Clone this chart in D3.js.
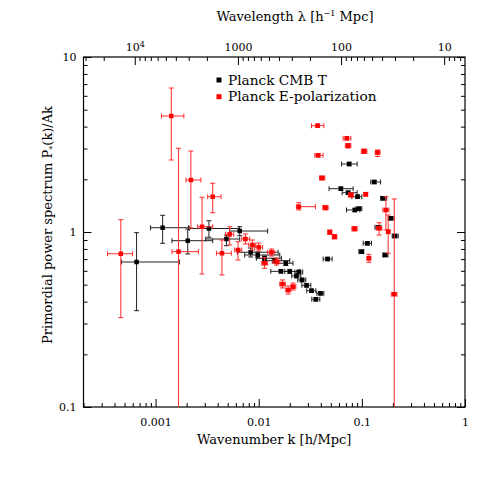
<!DOCTYPE html>
<html>
<head>
<meta charset="utf-8">
<script src="https://cdn.jsdelivr.net/npm/d3@7"></script>
<style>
body { margin: 0; background: #fff; }
text { font-family: "DejaVu Serif", serif; fill: #000; }
</style>
</head>
<body>
<svg id="chart" width="491" height="491"></svg>
<script>
// Planck CMB T : k, bin edges, P and its error range
const cmbK   = [0.000654, 0.00117, 0.00205, 0.00329, 0.00486, 0.00654, 0.00836, 0.00978, 0.0114, 0.0141, 0.0183, 0.0164, 0.0200, 0.0245, 0.0232, 0.0263, 0.0291, 0.0325, 0.0397, 0.0358, 0.0465, 0.0753, 0.0626, 0.0736, 0.0908, 0.132, 0.161, 0.0855, 0.0935, 0.191, 0.144, 0.209, 0.113, 0.0993, 0.168];
const cmbKLo = [0.000468, 0.000894, 0.00144, 0.00212, 0.00306, 0.00523, 0.00621, 0.00731, 0.0095, 0.0109, 0.0149, 0.0131, 0.0179, 0.0224, 0.0209, 0.0239, 0.0262, 0.0292, 0.0366, 0.0327, 0.0421, 0.0635, 0.0481, 0.0644, 0.080, 0.122, 0.152, 0.071, 0.0874, 0.180, 0.134, 0.197, 0.103, 0.0935, 0.160];
const cmbKHi = [0.00170, 0.00209, 0.00358, 0.00649, 0.00654, 0.0122, 0.0154, 0.0160, 0.0166, 0.0200, 0.0215, 0.0205, 0.0250, 0.0267, 0.0256, 0.0286, 0.0320, 0.0358, 0.0428, 0.0391, 0.0515, 0.090, 0.0823, 0.090, 0.100, 0.152, 0.174, 0.0956, 0.100, 0.206, 0.153, 0.225, 0.124, 0.1045, 0.179];
const cmbP   = [0.674, 1.058, 0.892, 1.047, 0.912, 1.013, 0.766, 0.739, 0.708, 0.686, 0.663, 0.596, 0.595, 0.591, 0.561, 0.532, 0.496, 0.462, 0.446, 0.413, 0.701, 2.447, 1.768, 1.677, 1.591, 1.931, 1.558, 1.336, 1.359, 1.198, 1.064, 0.949, 0.862, 0.772, 0.739];
const cmbPLo = [0.355, 0.862, 0.749, 0.933, 0.835, 0.952, 0.720, 0.710, 0.683, 0.665, 0.643, 0.583, 0.581, 0.577, 0.547, 0.519, 0.484, 0.452, 0.437, 0.403, 0.686, 2.392, 1.729, 1.640, 1.556, 1.888, 1.523, 1.306, 1.329, 1.171, 1.040, 0.928, 0.843, 0.755, 0.723];
const cmbPHi = [0.991, 1.246, 1.040, 1.160, 0.961, 1.072, 0.810, 0.769, 0.729, 0.706, 0.678, 0.611, 0.609, 0.605, 0.574, 0.545, 0.508, 0.472, 0.456, 0.422, 0.717, 2.502, 1.808, 1.715, 1.627, 1.974, 1.593, 1.366, 1.389, 1.225, 1.088, 0.970, 0.881, 0.789, 0.756];

// Planck E-polarization (lower bound 0 = error bar runs off the bottom)
const eeK   = [0.00046, 0.00142, 0.00167, 0.00220, 0.00282, 0.00358, 0.00440, 0.00523, 0.00630, 0.00743, 0.00869, 0.0100, 0.0114, 0.0133, 0.0149, 0.0170, 0.0193, 0.0215, 0.0245, 0.0372, 0.0377, 0.0412, 0.0444, 0.0489, 0.0543, 0.0715, 0.0736, 0.0782, 0.0849, 0.105, 0.142, 0.109, 0.117, 0.147, 0.171, 0.180, 0.206];
const eeKLo = [0.000342, 0.00114, 0.00144, 0.00197, 0.00256, 0.00320, 0.00389, 0.00478, 0.00585, 0.00684, 0.0080, 0.00915, 0.0107, 0.0122, 0.0137, 0.0160, 0.0183, 0.0205, 0.0232, 0.0325, 0.0350, 0.0389, 0.0418, 0.0468, 0.0517, 0.0658, 0.0692, 0.0740, 0.080, 0.0989, 0.135, 0.1045, 0.112, 0.138, 0.160, 0.173, 0.193];
const eeKHi = [0.000598, 0.00188, 0.00260, 0.00275, 0.00358, 0.00431, 0.00543, 0.00572, 0.00684, 0.00818, 0.00935, 0.0109, 0.0122, 0.0143, 0.0160, 0.0181, 0.0205, 0.0229, 0.0355, 0.0428, 0.0421, 0.0437, 0.0471, 0.0511, 0.0572, 0.0782, 0.0782, 0.0827, 0.090, 0.112, 0.150, 0.114, 0.122, 0.156, 0.183, 0.187, 0.219];
const eeP   = [0.751, 4.60, 0.772, 1.982, 1.072, 1.591, 0.756, 0.970, 0.789, 0.912, 0.843, 0.818, 0.663, 0.766, 0.677, 0.504, 0.466, 0.487, 1.395, 4.050, 2.743, 2.035, 1.377, 0.996, 0.940, 3.431, 3.112, 1.627, 1.044, 2.891, 2.846, 1.642, 0.708, 1.050, 1.336, 1.004, 0.441];
const eePLo = [0.324, 2.579, 0, 1.054, 0.575, 1.289, 0.568, 0.843, 0.692, 0.854, 0.789, 0.779, 0.620, 0.729, 0.648, 0.479, 0.442, 0.466, 1.336, 3.955, 2.683, 1.982, 1.336, 0.968, 0.912, 3.355, 3.020, 1.585, 1.013, 2.809, 2.700, 1.606, 0.671, 0.961, 1.027, 0.756, 0];
const eePHi = [1.176, 6.65, 3.008, 2.903, 1.579, 1.898, 0.900, 1.072, 0.880, 0.974, 0.900, 0.865, 0.713, 0.800, 0.710, 0.532, 0.491, 0.511, 1.470, 4.142, 2.809, 2.089, 1.417, 1.027, 0.968, 3.513, 3.204, 1.671, 1.075, 2.981, 2.942, 1.682, 0.746, 1.130, 1.591, 1.251, 1.544];

// axis ticks
const kTicks = [0.001, 0.01, 0.1, 1];
const kTickLabels = ["0.001", "0.01", "0.1", "1"];
const pTicks = [0.1, 1, 10];
const pTickLabels = ["0.1", "1", "10"];
const lambdaTicks = [10000, 1000, 100, 10];
const lambdaTickLabels = ["10|4", "1000", "100", "10"];

const seriesNames = ["Planck CMB T", "Planck E-polarization"];
const seriesColors = ["#000", "#ff0000"];
const barColors = ["#222", "#ff2a2a"];

const plotLeft = 83.5, plotRight = 465, plotTop = 57, plotBottom = 407;
const majorLen = 8, minorLen = 4, cap = 2.5, markerSize = 4.5;

const svg = d3.select("#chart");
svg.append("rect").attr("width", 491).attr("height", 491).attr("fill", "#fff");

const x = d3.scaleLog().domain([0.0002, 1]).range([plotLeft, plotRight]);
const y = d3.scaleLog().domain([0.1, 10]).range([plotBottom, plotTop]);
const lam = d3.scaleLog().domain([2 * Math.PI / 0.0002, 2 * Math.PI / 1]).range([plotLeft, plotRight]);

function minorTicks(scale) {
    const [a, b] = d3.extent(scale.domain());
    const out = [];
    for (let e = Math.floor(Math.log10(a)); e <= Math.ceil(Math.log10(b)); e++) {
        for (let m = 2; m <= 9; m++) {
            const v = m * Math.pow(10, e);
            if (v >= a && v <= b) out.push(v);
        }
    }
    return out;
}

function cleanAxis(g) {
    g.select(".domain").remove();
    g.selectAll(".tick line").attr("stroke", "#000").attr("stroke-width", 1);
    g.selectAll(".tick text").attr("font-family", "DejaVu Serif").attr("font-size", 11).attr("fill", "#000");
}

// bottom k axis
svg.append("g").attr("transform", `translate(0,${plotBottom})`)
    .call(d3.axisBottom(x).tickValues(minorTicks(x)).tickSize(-minorLen).tickFormat(""))
    .call(cleanAxis);
svg.append("g").attr("transform", `translate(0,${plotBottom})`)
    .call(d3.axisBottom(x).tickValues(kTicks).tickSize(-majorLen).tickPadding(11)
        .tickFormat((d, i) => kTickLabels[i]))
    .call(cleanAxis);

// top wavelength axis
svg.append("g").attr("transform", `translate(0,${plotTop})`)
    .call(d3.axisTop(lam).tickValues(minorTicks(lam)).tickSize(-minorLen).tickFormat(""))
    .call(cleanAxis);
const topAxis = svg.append("g").attr("transform", `translate(0,${plotTop})`)
    .call(d3.axisTop(lam).tickValues(lambdaTicks).tickSize(-majorLen).tickPadding(6).tickFormat(""))
    .call(cleanAxis);
topAxis.selectAll(".tick text").each(function(d, i) {
    const parts = lambdaTickLabels[i].split("|");
    const t = d3.select(this);
    t.append("tspan").text(parts[0]);
    if (parts[1]) t.append("tspan").attr("dy", -4).attr("font-size", 8).text(parts[1]);
});

// left and right P axes
svg.append("g").attr("transform", `translate(${plotLeft},0)`)
    .call(d3.axisLeft(y).tickValues(minorTicks(y)).tickSize(-minorLen).tickFormat(""))
    .call(cleanAxis);
svg.append("g").attr("transform", `translate(${plotLeft},0)`)
    .call(d3.axisLeft(y).tickValues(pTicks).tickSize(-majorLen).tickPadding(7)
        .tickFormat((d, i) => pTickLabels[i]))
    .call(cleanAxis);
svg.append("g").attr("transform", `translate(${plotRight},0)`)
    .call(d3.axisRight(y).tickValues(minorTicks(y)).tickSize(-minorLen).tickFormat(""))
    .call(cleanAxis);
svg.append("g").attr("transform", `translate(${plotRight},0)`)
    .call(d3.axisRight(y).tickValues(pTicks).tickSize(-majorLen).tickFormat(""))
    .call(cleanAxis);

svg.append("rect")
    .attr("x", plotLeft).attr("y", plotTop)
    .attr("width", plotRight - plotLeft).attr("height", plotBottom - plotTop)
    .attr("fill", "none").attr("stroke", "#000").attr("stroke-width", 1.2);

// axis titles
svg.append("text")
    .attr("x", (plotLeft + plotRight) / 2).attr("y", 444)
    .attr("text-anchor", "middle").attr("font-size", 13)
    .text("Wavenumber k [h/Mpc]");

const topTitle = svg.append("text")
    .attr("x", 295).attr("y", 21)
    .attr("text-anchor", "middle").attr("font-size", 13);
topTitle.append("tspan").text("Wavelength \u03bb [h");
topTitle.append("tspan").attr("dy", -5).attr("font-size", 8).text("\u22121");
topTitle.append("tspan").attr("dy", 5).text(" Mpc]");

const yTitle = svg.append("text")
    .attr("transform", "translate(52,225) rotate(-90)")
    .attr("text-anchor", "middle").attr("font-size", 13);
yTitle.append("tspan").text("Primordial power spectrum P");
yTitle.append("tspan").attr("dy", 3).attr("font-size", 8).text("*");
yTitle.append("tspan").attr("dy", -3).text("(k)/Ak");

// data
svg.append("clipPath").attr("id", "plot-clip")
    .append("rect").attr("x", plotLeft).attr("y", plotTop)
    .attr("width", plotRight - plotLeft).attr("height", plotBottom - plotTop);

const series = [
    { k: cmbK, kLo: cmbKLo, kHi: cmbKHi, p: cmbP, pLo: cmbPLo, pHi: cmbPHi },
    { k: eeK, kLo: eeKLo, kHi: eeKHi, p: eeP, pLo: eePLo, pHi: eePHi }
];

series.forEach((s, si) => {
    const pts = s.k.map((k, i) => ({ k, kLo: s.kLo[i], kHi: s.kHi[i], p: s.p[i], pLo: s.pLo[i], pHi: s.pHi[i] }));
    const g = svg.append("g").attr("clip-path", "url(#plot-clip)")
        .attr("stroke", barColors[si]).attr("stroke-width", 1).attr("fill", "none");

    pts.forEach(d => {
        const cx = x(d.k), cy = y(d.p);
        const x0 = x(d.kLo), x1 = x(d.kHi);
        const y0 = d.pLo > 0 ? y(d.pLo) : plotBottom + 10;
        const y1 = y(d.pHi);
        // horizontal bin bar with caps
        g.append("line").attr("x1", x0).attr("x2", x1).attr("y1", cy).attr("y2", cy);
        g.append("line").attr("x1", x0).attr("x2", x0).attr("y1", cy - cap).attr("y2", cy + cap);
        g.append("line").attr("x1", x1).attr("x2", x1).attr("y1", cy - cap).attr("y2", cy + cap);
        // vertical error bar with caps
        g.append("line").attr("x1", cx).attr("x2", cx).attr("y1", y1).attr("y2", y0);
        g.append("line").attr("x1", cx - cap).attr("x2", cx + cap).attr("y1", y1).attr("y2", y1);
        if (d.pLo > 0) g.append("line").attr("x1", cx - cap).attr("x2", cx + cap).attr("y1", y0).attr("y2", y0);
    });

    svg.append("g").selectAll("rect")
        .data(pts)
        .join("rect")
        .attr("x", d => x(d.k) - markerSize / 2)
        .attr("y", d => y(d.p) - markerSize / 2)
        .attr("width", markerSize).attr("height", markerSize)
        .attr("fill", seriesColors[si]);
});

// legend
const legend = svg.append("g").attr("transform", "translate(219,80)");
seriesNames.forEach((name, i) => {
    legend.append("rect")
        .attr("x", -2.5).attr("y", i * 16.7 - 2.5)
        .attr("width", 5).attr("height", 5)
        .attr("fill", seriesColors[i]);
    legend.append("text")
        .attr("x", 9).attr("y", i * 16.7 + 4.5)
        .attr("font-size", 13.7)
        .attr("fill", seriesColors[i])
        .text(name);
});
</script>
</body>
</html>
